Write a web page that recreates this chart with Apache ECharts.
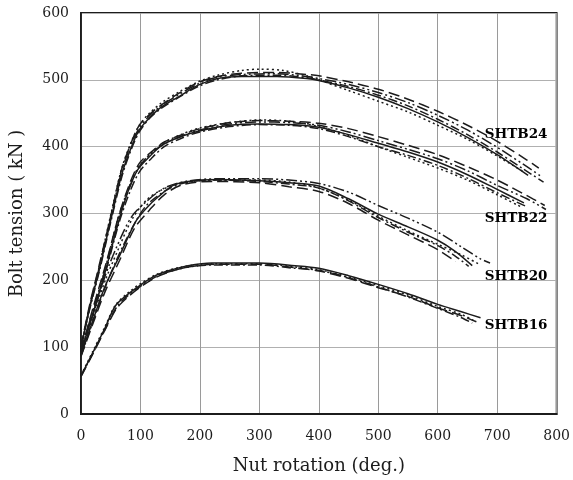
<!DOCTYPE html>
<html>
<head>
<meta charset="utf-8">
<script src="https://cdn.jsdelivr.net/npm/echarts@6/dist/echarts.min.js"></script>
<style>
  html, body { margin: 0; padding: 0; background: #fff; }
  #chart { width: 573px; height: 480px; }
</style>
</head>
<body>
<div id="chart"></div>
<script>
// Axis ticks
const xTicks = [0, 100, 200, 300, 400, 500, 600, 700, 800];
const yTicks = [0, 100, 200, 300, 400, 500, 600];

// Bolt tension (kN) against nut rotation (deg.), pairs of [rotation, tension]
// SHTB16
const t16Solid = [[0,57],[20,92],[40,128],[58,162],[80,180],[100,193],[125,207],[150,215],[180,222],[220,226],[300,226],[360,222],[400,218],[450,207],[500,194],[550,180],[600,164],[640,153],[672,144]];
const t16Dash = [[0,56],[20,90],[40,125],[60,158],[80,176],[100,190],[125,204],[150,213],[180,220],[230,224],[300,224],[360,219],[400,214],[450,203],[500,189],[550,176],[600,159],[640,147],[665,138]];
const t16Dot = [[0,58],[20,94],[40,130],[58,163],[80,182],[100,195],[130,210],[170,220],[220,225],[300,225],[360,220],[400,216],[450,205],[500,192],[550,178],[600,161],[640,149],[660,140]];
const t16DashDot = [[0,57],[20,91],[40,126],[60,160],[80,178],[100,191],[130,207],[170,218],[220,223],[300,223],[360,218],[400,215],[450,204],[500,190],[550,175],[600,158],[640,144],[658,136]];

// SHTB20
const t20Solid = [[0,88],[20,140],[40,190],[65,237],[92,288],[110,308],[130,325],[155,342],[180,348],[230,351],[300,349],[350,346],[400,341],[450,322],[500,299],[550,280],[600,260],[630,243],[658,222]];
const t20Dash = [[0,86],[20,135],[40,182],[65,230],[90,278],[115,305],[140,328],[170,343],[220,348],[300,346],[350,340],[400,333],[450,315],[500,290],[550,268],[600,246],[630,228]];
const t20Dot = [[0,90],[20,145],[40,198],[62,245],[85,290],[110,320],[135,335],[165,345],[220,350],[300,350],[350,347],[400,338],[450,320],[500,296],[550,274],[600,254],[640,238],[670,224]];
const t20DashDot = [[0,87],[20,138],[40,188],[62,235],[90,285],[110,312],[140,333],[170,345],[220,350],[300,348],[350,344],[400,338],[450,319],[500,294],[550,272],[600,252],[630,236],[652,221]];
const t20DashDotDot = [[0,92],[20,150],[40,205],[60,250],[85,295],[110,318],[140,338],[175,348],[230,352],[300,352],[350,350],[400,345],[450,332],[500,312],[550,293],[600,272],[640,250],[672,232],[688,226]];

// SHTB22
const t22Solid = [[0,92],[20,150],[42,217],[64,290],[80,335],[95,365],[115,385],[136,402],[165,414],[197,423],[250,432],[300,434],[350,433],[400,429],[450,418],[500,405],[550,392],[600,377],[650,358],[700,336],[745,316]];
const t22Dash = [[0,95],[20,158],[42,225],[64,298],[82,345],[98,375],[118,392],[140,407],[170,418],[200,427],[250,436],[300,439],[350,438],[400,435],[450,427],[500,415],[550,402],[600,388],[650,370],[700,350],[760,322],[780,312]];
const t22Dot = [[0,90],[20,152],[42,222],[62,292],[80,338],[96,368],[115,388],[136,404],[165,417],[200,428],[250,436],[300,440],[350,438],[400,430],[450,417],[500,400],[550,384],[600,368],[650,350],[700,328],[740,310]];
const t22DashDot = [[0,93],[20,148],[42,214],[64,286],[82,332],[98,362],[118,382],[140,400],[170,413],[200,422],[250,430],[300,433],[350,432],[400,427],[450,415],[500,400],[550,387],[600,372],[650,353],[700,331],[750,310]];
const t22DashDotDot = [[0,94],[20,155],[42,220],[64,295],[82,340],[98,370],[118,390],[140,404],[170,416],[200,425],[250,434],[300,437],[350,436],[400,432],[450,422],[500,409],[550,396],[600,382],[650,364],[700,342],[750,322],[782,306]];

// SHTB24
const t24Solid = [[0,100],[15,160],[31,217],[50,290],[69,360],[85,400],[98,425],[115,443],[136,460],[165,475],[197,492],[230,502],[270,505],[330,505],[380,502],[400,499],[450,488],[500,474],[550,457],[600,437],[650,414],[700,388],[752,357]];
const t24Dash = [[0,102],[15,165],[31,224],[50,296],[68,365],[84,405],[98,432],[115,448],[136,463],[165,480],[197,496],[230,505],[270,510],[330,511],[380,508],[400,506],[450,497],[500,486],[550,471],[600,453],[650,432],[700,408],[750,380],[770,368]];
const t24Dot = [[0,99],[15,162],[31,222],[50,298],[68,366],[84,406],[98,432],[115,450],[136,466],[165,482],[197,497],[230,507],[270,514],[300,516],[340,514],[380,506],[400,500],[450,484],[500,468],[550,452],[600,432],[650,411],[700,386],[745,362]];
const t24DashDot = [[0,101],[15,158],[31,214],[50,287],[69,356],[85,397],[98,422],[115,442],[136,458],[165,474],[197,490],[230,500],[270,506],[330,507],[380,503],[400,500],[450,490],[500,477],[550,461],[600,441],[650,418],[700,392],[745,366],[778,347]];
const t24DashDotDot = [[0,98],[15,163],[31,220],[50,293],[68,362],[84,403],[98,428],[115,446],[136,462],[165,478],[197,494],[230,504],[270,508],[330,509],[380,505],[400,502],[450,493],[500,481],[550,466],[600,447],[650,425],[700,399],[750,370],[775,355]];

const groupNames = ['SHTB24', 'SHTB22', 'SHTB20', 'SHTB16'];

// Dash patterns for the individual test specimens
const DASH = {
  solid: 'solid',
  dash: [11, 5],
  dot: [2, 3],
  dashDot: [9, 3, 2, 3],
  dashDotDot: [11, 3, 2, 3, 2, 3]
};

const curves = [
  [t16Solid, 'solid'], [t16Dash, 'dash'], [t16Dot, 'dot'], [t16DashDot, 'dashDot'],
  [t20Solid, 'solid'], [t20Dash, 'dash'], [t20Dot, 'dot'], [t20DashDot, 'dashDot'], [t20DashDotDot, 'dashDotDot'],
  [t22Solid, 'solid'], [t22Dash, 'dash'], [t22Dot, 'dot'], [t22DashDot, 'dashDot'], [t22DashDotDot, 'dashDotDot'],
  [t24Solid, 'solid'], [t24Dash, 'dash'], [t24Dot, 'dot'], [t24DashDot, 'dashDot'], [t24DashDotDot, 'dashDotDot']
];

const FONT = '"DejaVu Serif", "Liberation Serif", serif';
const INK = '#1c1c1c';

const lineSeries = curves.map(([pts, style]) => ({
  type: 'line',
  data: pts,
  smooth: 0.3,
  symbol: 'none',
  silent: true,
  lineStyle: { color: INK, width: 1.5, type: DASH[style] }
}));

// Group captions placed just right of the curve ends
const captionAnchors = [[679, 418], [679, 293], [679, 205], [679, 132]];
const captionSeries = {
  type: 'scatter',
  symbolSize: 0,
  silent: true,
  itemStyle: { opacity: 1 },
  data: groupNames.map((n, i) => ({ value: captionAnchors[i], name: n })),
  label: {
    show: true,
    position: 'right',
    distance: 0,
    formatter: p => p.name,
    fontFamily: FONT,
    fontWeight: 'bold',
    fontSize: 13.5,
    color: '#000',
    opacity: 1
  },
  z: 5
};

const chart = echarts.init(document.getElementById('chart'), null, { renderer: 'canvas' });
chart.setOption({
  animation: false,
  backgroundColor: '#fff',
  grid: {
    left: 79, right: 12, top: 13, bottom: 64.5,
    show: true, borderColor: INK, borderWidth: 1.8, backgroundColor: 'transparent'
  },
  xAxis: {
    type: 'value',
    min: xTicks[0], max: xTicks[xTicks.length - 1], interval: 100,
    name: 'Nut rotation (deg.)',
    nameLocation: 'middle',
    nameGap: 43,
    nameTextStyle: { fontFamily: FONT, fontSize: 18, color: INK },
    axisLine: { show: true, lineStyle: { color: INK, width: 1.8 } },
    axisTick: { show: false },
    axisLabel: { fontFamily: FONT, fontSize: 14, color: INK, margin: 15,
      formatter: v => xTicks.includes(v) ? String(v) : '' },
    splitLine: { show: true, lineStyle: { color: '#9a9a9a', width: 1 } }
  },
  yAxis: {
    type: 'value',
    min: yTicks[0], max: yTicks[yTicks.length - 1], interval: 100,
    name: 'Bolt tension ( kN )',
    nameLocation: 'middle',
    nameGap: 55,
    nameTextStyle: { fontFamily: FONT, fontSize: 18, color: INK },
    axisLine: { show: true, lineStyle: { color: INK, width: 1.8 } },
    axisTick: { show: false },
    axisLabel: { fontFamily: FONT, fontSize: 14, color: INK, margin: 12,
      formatter: v => yTicks.includes(v) ? String(v) : '' },
    splitLine: { show: true, lineStyle: { color: '#b0b0b0', width: 1 } }
  },
  series: lineSeries.concat([captionSeries])
});
</script>
</body>
</html>
